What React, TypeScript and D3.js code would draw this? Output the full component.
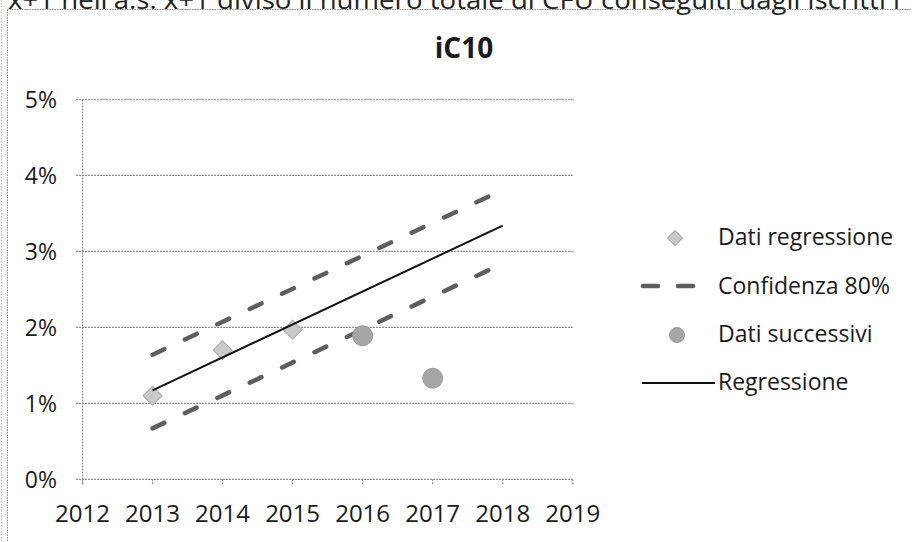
import React from "react";
import * as d3 from "d3";

const headerText = "x+1 nell'a.s. x+1 diviso il numero totale di CFU conseguiti dagli iscritti i";
const chartTitle = "iC10";
const xTicks = [2012, 2013, 2014, 2015, 2016, 2017, 2018, 2019];
const yTicks = [0, 1, 2, 3, 4, 5];
const regYears = [2013, 2014, 2015];
const regValues = [1.1, 1.7, 1.97];
const succYears = [2016, 2017];
const succValues = [1.89, 1.33];
const lineYears = [2013, 2018];
const regressionLine = [1.17, 3.34];
const upperBand = [1.64, 3.81];
const lowerBand = [0.67, 2.84];
const legendLabels = ["Dati regressione", "Confidenza 80%", "Dati successivi", "Regressione"];

const W = 912;
const H = 542;
const FONT = "'Open Sans', 'Noto Sans', sans-serif";

export default function App() {
  const x = d3.scaleLinear().domain([2012, 2019]).range([82.5, 572.7]);
  const y = d3.scaleLinear().domain([0, 5]).range([479.3, 99.5]);
  const line = d3
    .line<[number, number]>()
    .x((d) => x(d[0]))
    .y((d) => y(d[1]));
  const pts = (vals: number[]) => lineYears.map((yr, i) => [yr, vals[i]] as [number, number]);
  const diamond = d3.symbol().type(d3.symbolSquare).size(180)();
  const diamondSmall = d3.symbol().type(d3.symbolSquare).size(112)();
  const grid = "#8f8f8f";
  const dashColor = "#5e5e5e";
  const legendX = 718;
  const legendY = [237, 286, 333.5, 382];

  return (
    <svg
      width={W}
      height={H}
      style={{ position: "absolute", left: 0, top: 0, background: "#fff" }}
      fontFamily={FONT}
    >
      {/* header text, cut at top */}
      <text x={8} y={9} fontSize={26} fill="#222" textLength={892} lengthAdjust="spacingAndGlyphs">
        {headerText}
      </text>
      {/* page borders */}
      <line x1={7} x2={W} y1={9.5} y2={9.5} stroke={grid} strokeDasharray="1.5,1" />
      <line x1={7.5} x2={7.5} y1={9.5} y2={H} stroke={grid} strokeDasharray="1.5,1" />
      <line x1={1.5} x2={1.5} y1={0} y2={H} stroke="#bbb" strokeDasharray="1.5,1.5" />

      {/* title */}
      <text x={464} y={58} fontSize={28} fontWeight="bold" textAnchor="middle" fill="#1a1a1a">
        {chartTitle}
      </text>

      {/* gridlines & y ticks */}
      {yTicks.map((t) => (
        <g key={t}>
          <line
            x1={76}
            x2={x(2019)}
            y1={y(t)}
            y2={y(t)}
            stroke={grid}
            strokeWidth={1.2}
            strokeDasharray="2,1"
          />
          <text x={57} y={y(t)} dy="0.36em" fontSize={23} textAnchor="end" fill="#1a1a1a">
            {t + "%"}
          </text>
        </g>
      ))}
      {/* y axis */}
      <line x1={x(2012)} x2={x(2012)} y1={y(5)} y2={y(0) + 5} stroke={grid} strokeWidth={1.2} strokeDasharray="2,1" />
      {/* x ticks */}
      {xTicks.map((t) => (
        <g key={t}>
          <line x1={x(t)} x2={x(t)} y1={y(0)} y2={y(0) + 6} stroke={grid} strokeWidth={1.2} strokeDasharray="2,1" />
          <text x={x(t)} y={522} fontSize={24} textAnchor="middle" fill="#1a1a1a">
            {t}
          </text>
        </g>
      ))}

      {/* confidence band */}
      <path
        d={line(pts(upperBand)) || ""}
        fill="none"
        stroke={dashColor}
        strokeWidth={4.5}
        strokeDasharray="13,22.8"
        strokeLinecap="round"
      />
      <path
        d={line(pts(lowerBand)) || ""}
        fill="none"
        stroke={dashColor}
        strokeWidth={4.5}
        strokeDasharray="13,22.8"
        strokeLinecap="round"
      />

      {/* regression data */}
      {regYears.map((yr, i) => (
        <path
          key={yr}
          d={diamond || ""}
          transform={`translate(${x(yr)},${y(regValues[i])}) rotate(45)`}
          fill="#cacaca"
          stroke="#a8a8a8"
          strokeWidth={1}
        />
      ))}
      {/* regression line */}
      <path d={line(pts(regressionLine)) || ""} fill="none" stroke="#111" strokeWidth={2} />

      {/* successive data */}
      {succYears.map((yr, i) => (
        <circle key={yr} cx={x(yr)} cy={y(succValues[i])} r={10} fill="#a6a6a6" stroke="#999" strokeWidth={1} />
      ))}

      {/* legend */}
      <path d={diamondSmall || ""} transform={`translate(675,${legendY[0] + 1})rotate(45)`} fill="#cacaca" stroke="#a8a8a8" />
      <line x1={643} x2={658} y1={legendY[1]} y2={legendY[1]} stroke={dashColor} strokeWidth={4.5} strokeLinecap="round" />
      <line x1={678} x2={693} y1={legendY[1]} y2={legendY[1]} stroke={dashColor} strokeWidth={4.5} strokeLinecap="round" />
      <circle cx={677} cy={legendY[2] + 1.5} r={7.5} fill="#a6a6a6" stroke="#999" />
      <line x1={642} x2={715} y1={legendY[3] + 1} y2={legendY[3] + 1} stroke="#111" strokeWidth={2} />
      {legendLabels.map((l, i) => (
        <text key={l} x={legendX} y={legendY[i]} dy="0.36em" fontSize={23} fill="#1a1a1a">
          {l}
        </text>
      ))}
    </svg>
  );
}
